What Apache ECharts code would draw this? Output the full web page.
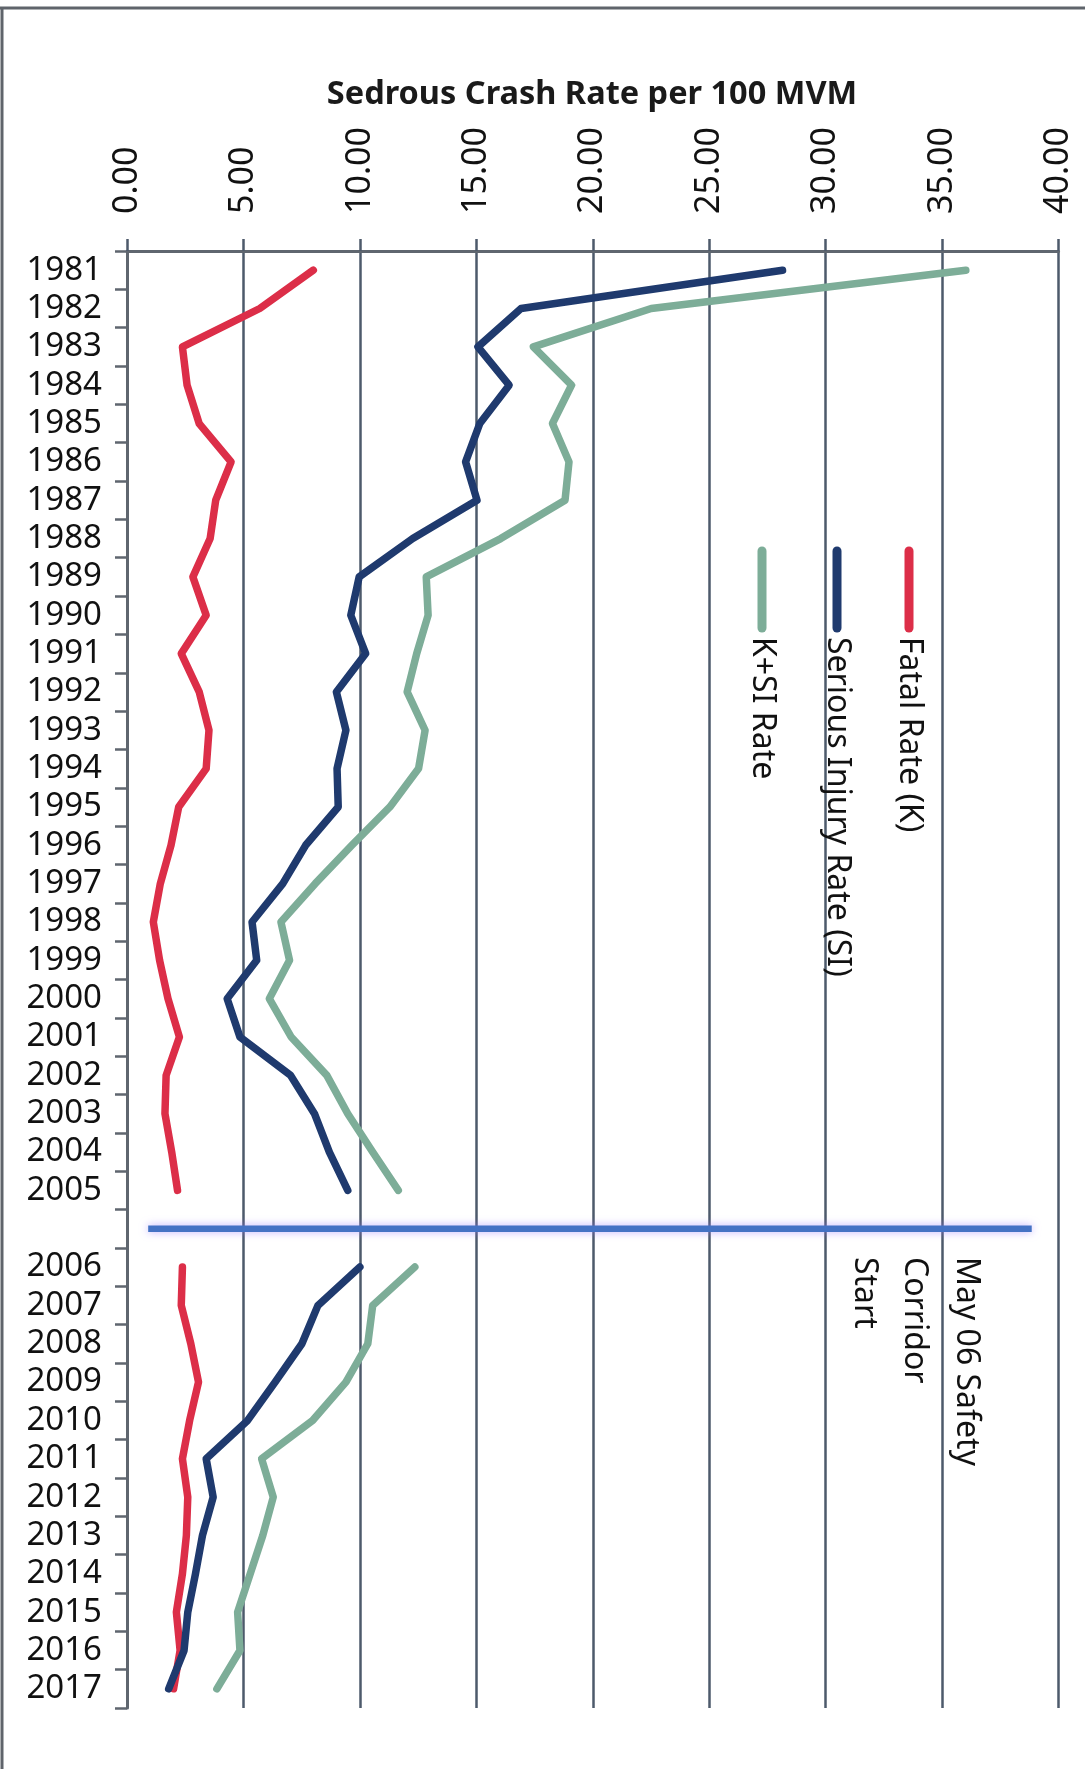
<!DOCTYPE html>
<html>
<head>
<meta charset="utf-8">
<script src="https://cdn.jsdelivr.net/npm/echarts@6/dist/echarts.min.js"></script>
<style>
html,body{margin:0;padding:0;background:#fff;}
#chart{width:1085px;height:1769px;}
</style>
</head>
<body>
<div id="chart"></div>
<script>
const years = ['1981','1982','1983','1984','1985','1986','1987','1988','1989','1990',
  '1991','1992','1993','1994','1995','1996','1997','1998','1999','2000',
  '2001','2002','2003','2004','2005','',
  '2006','2007','2008','2009','2010','2011','2012','2013','2014','2015','2016','2017'];
const fatalRate = [8.00,5.70,2.38,2.58,3.10,4.47,3.81,3.57,2.83,3.40,
  2.33,3.10,3.52,3.40,2.22,1.89,1.43,1.13,1.40,1.76,
  2.25,1.68,1.63,1.92,2.17,null,
  2.38,2.33,2.74,3.07,2.69,2.38,2.61,2.55,2.38,2.12,2.28,2.00];
const seriousRate = [28.15,16.92,15.07,16.41,15.15,14.54,15.03,12.27,9.97,9.61,
  10.25,8.99,9.40,9.02,9.07,7.67,6.69,5.37,5.57,4.30,
  4.85,7.02,8.05,8.69,9.48,null,
  10.00,8.20,7.51,6.36,5.18,3.40,3.70,3.24,2.94,2.61,2.45,1.79];
const ksiRate = [36.02,22.51,17.45,19.09,18.27,18.98,18.81,16.05,12.85,12.93,
  12.44,12.03,12.80,12.52,11.29,9.65,8.08,6.61,6.98,6.11,
  7.05,8.58,9.48,10.55,11.65,null,
  12.36,10.55,10.34,9.40,7.97,5.78,6.28,5.83,5.29,4.75,4.85,3.86];
const markerExtent = [0.91, 38.85];
const markerIndex = 25;
const seriesNames = ['Fatal Rate (K)','Serious Injury Rate (SI)','K+SI Rate'];
const seriesColors = ['#DC2E48','#1F3A6E','#7DAD98'];
const annotationLines = ['May 06 Safety','Corridor','Start'];
const titleText = 'Sedrous Crash Rate per 100 MVM';

const chart = echarts.init(document.getElementById('chart'), null, {renderer:'canvas'});
const gridColor = '#4d5a6b';
const FONT = 'Noto Sans';
const rot = -Math.PI/2;

function legendItem(i, cx){
  return [
    {type:'line', shape:{x1:cx, y1:551, x2:cx, y2:628}, style:{stroke:seriesColors[i], lineWidth:9, lineCap:'round'}, z:20},
    {type:'text', x:cx, y:637, rotation:rot, z:20,
      style:{text:seriesNames[i], fill:'#111', font:'32px "Noto Sans"', textAlign:'left', textVerticalAlign:'middle'}}
  ];
}

const graphics = [
  {type:'line', shape:{x1:0,y1:8,x2:1085,y2:8}, style:{stroke:'#5f646b', lineWidth:3}},
  {type:'line', shape:{x1:2,y1:8,x2:2,y2:1769}, style:{stroke:'#5f646b', lineWidth:3}},
  {type:'text', x:592, y:95, style:{text:titleText, fill:'#1a1a1a', font:'bold 32.5px "Noto Sans"', textAlign:'center', textVerticalAlign:'middle'}},
  ...legendItem(0, 909), ...legendItem(1, 837), ...legendItem(2, 762),
  {type:'text', x:966, y:1257, rotation:rot, z:20, style:{text:annotationLines[0], fill:'#111', font:'32px "Noto Sans"', textAlign:'left', textVerticalAlign:'middle'}},
  {type:'text', x:914, y:1257, rotation:rot, z:20, style:{text:annotationLines[1], fill:'#111', font:'32px "Noto Sans"', textAlign:'left', textVerticalAlign:'middle'}},
  {type:'text', x:864, y:1257, rotation:rot, z:20, style:{text:annotationLines[2], fill:'#111', font:'32px "Noto Sans"', textAlign:'left', textVerticalAlign:'middle'}}
];

function mkSeries(i, data){
  return {
    name: seriesNames[i], type:'line', data:data, symbol:'none', connectNulls:false,
    lineStyle:{color:seriesColors[i], width:7.5, cap:'round', join:'round'},
    itemStyle:{color:seriesColors[i]}, z:5, animation:false
  };
}

const option = {
  animation:false,
  backgroundColor:'#fff',
  grid:{left:127, top:251, right:26.5, bottom:61, containLabel:false},
  xAxis:{
    type:'value', position:'top', min:0, max:40, interval:5,
    axisLine:{show:true, lineStyle:{color:'#5f666f', width:3}},
    axisTick:{show:true, length:12, lineStyle:{color:gridColor, width:2.5}},
    splitLine:{show:true, lineStyle:{color:gridColor, width:2.5}},
    axisLabel:{rotate:-90, margin:37, color:'#111', fontFamily:FONT, fontSize:34,
      formatter:function(v){return v.toFixed(2);}}
  },
  yAxis:{
    type:'category', inverse:true, data:years, boundaryGap:true,
    axisLine:{show:true, lineStyle:{color:'#5f666f', width:3}},
    axisTick:{show:true, length:12, alignWithLabel:false, interval:0, lineStyle:{color:'#5f666f', width:2.5}},
    splitLine:{show:false},
    axisLabel:{interval:0, margin:25, color:'#111', fontFamily:FONT, fontSize:33}
  },
  series:[
    mkSeries(0, fatalRate),
    mkSeries(1, seriousRate),
    mkSeries(2, ksiRate),
    {
      name:'marker', type:'line', symbol:'none',
      data:[[markerExtent[0], markerIndex],[markerExtent[1], markerIndex]],
      lineStyle:{color:'#4472C4', width:6.5, shadowColor:'rgba(150,120,255,0.6)', shadowBlur:8},
      z:6, animation:false
    }
  ],
  graphic:graphics
};
chart.setOption(option);
</script>
</body>
</html>
